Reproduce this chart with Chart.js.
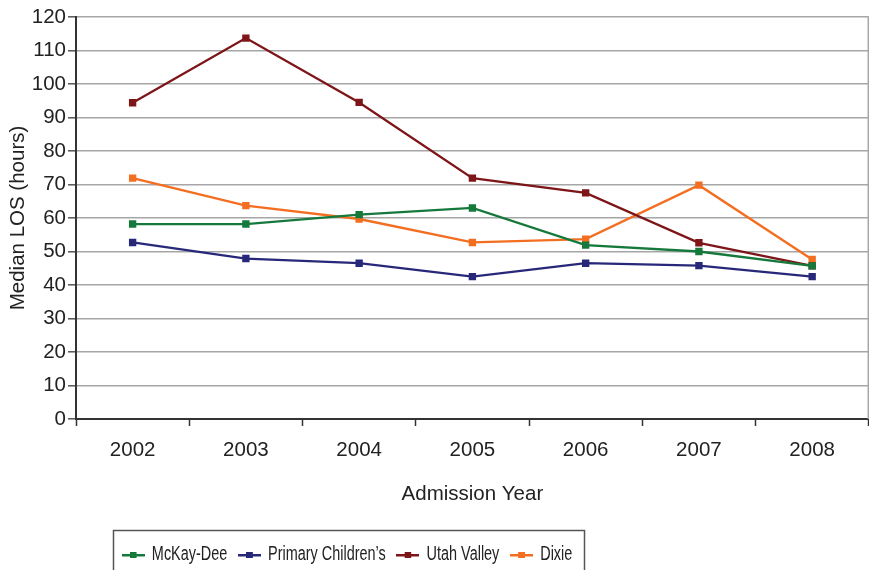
<!DOCTYPE html>
<html>
<head>
<meta charset="utf-8">
<script src="https://cdn.jsdelivr.net/npm/chart.js@4.4.1/dist/chart.umd.min.js"></script>
<style>
html, body { margin: 0; padding: 0; background: #fff; overflow: hidden; }
#wrap { width: 874px; height: 570px; }
</style>
</head>
<body>
<div id="wrap"><canvas id="chart"></canvas></div>
<script>
"use strict";

const years = ["2002", "2003", "2004", "2005", "2006", "2007", "2008"];
const mckayDee = [58.2, 58.2, 61, 63, 51.9, 50, 45.7];
const primaryChildrens = [52.7, 47.9, 46.5, 42.5, 46.5, 45.8, 42.5];
const utahValley = [94.4, 113.7, 94.5, 71.9, 67.5, 52.6, 45.7];
const dixie = [71.9, 63.7, 59.7, 52.7, 53.7, 69.8, 47.6];

const seriesNames = ["McKay-Dee", "Primary Children\u2019s", "Utah Valley", "Dixie"];
const seriesColors = ["#16793c", "#28287a", "#7e1518", "#f36e21"];

const FONT = "'Liberation Sans', Arial, Helvetica, sans-serif";
const FONT_SIZE = 20.5;

// the legend in the original is set in a narrow face
const LEGEND_SQUEEZE = 0.74;
const LEGEND_CENTER_X = 347;
const LEGEND_TEXT_Y = 555;
const LEGEND_PAD = 14.5;
const LEGEND_FONT = 19.5;

function legendIcon(color) {
    const c = document.createElement("canvas");
    c.width = 31;
    c.height = 8;
    const ctx = c.getContext("2d");
    ctx.fillStyle = color;
    ctx.fillRect(0, 3, 31, 2.5);
    ctx.fillRect(11, 1, 9, 6);
    return c;
}

function makeDataset(label, data, color) {
    return {
        label, data,
        borderColor: color,
        backgroundColor: color,
        borderWidth: 2.3,
        pointStyle: "rect",
        pointRadius: 5.2,
        pointHoverRadius: 5.2,
        pointBorderWidth: 0,
        tension: 0
    };
}

const framePlugin = {
    id: "frame",
    afterLayout(chart) {
        const lg = chart.legend;
        const shift = LEGEND_CENTER_X - (lg.left + lg.right) / 2;
        lg.left += shift;
        lg.right += shift;
        const h = lg.bottom - lg.top;
        lg.top = LEGEND_TEXT_Y - LEGEND_PAD - LEGEND_FONT / 2;
        lg.bottom = lg.top + h;
        if (!lg._squeezed) {
            const drawLegend = lg.draw.bind(lg);
            lg.draw = function (area) {
                const c = chart.ctx;
                c.save();
                c.translate(LEGEND_CENTER_X, 0);
                c.scale(LEGEND_SQUEEZE, 1);
                c.translate(-LEGEND_CENTER_X, 0);
                drawLegend(area);
                c.restore();
            };
            lg._squeezed = true;
        }
    },
    beforeDatasetsDraw(chart) {
        const { ctx, chartArea: a } = chart;
        ctx.save();
        ctx.strokeStyle = "#a6a6a6";
        ctx.lineWidth = 1.5;
        ctx.beginPath();
        ctx.moveTo(a.right - 0.5, a.top);
        ctx.lineTo(a.right - 0.5, a.bottom);
        ctx.stroke();
        ctx.restore();
    },
    afterDraw(chart) {
        const boxes = chart.legend.legendHitBoxes;
        if (!boxes || !boxes.length) return;
        const sx = (x) => LEGEND_CENTER_X + (x - LEGEND_CENTER_X) * LEGEND_SQUEEZE;
        const first = boxes[0];
        const last = boxes[boxes.length - 1];
        const left = sx(first.left) - 9;
        const right = sx(last.left + last.width) + 11;
        const { ctx } = chart;
        ctx.save();
        ctx.strokeStyle = "#555";
        ctx.lineWidth = 1.5;
        ctx.strokeRect(Math.round(left) + 0.5, 530.5, Math.round(right - left), 60);
        ctx.restore();
    }
};

const ctx = document.getElementById("chart").getContext("2d");
new Chart(ctx, {
    type: "line",
    data: {
        labels: years,
        datasets: [
            makeDataset(seriesNames[0], mckayDee, seriesColors[0]),
            makeDataset(seriesNames[1], primaryChildrens, seriesColors[1]),
            makeDataset(seriesNames[2], utahValley, seriesColors[2]),
            makeDataset(seriesNames[3], dixie, seriesColors[3])
        ]
    },
    plugins: [framePlugin],
    options: {
        responsive: true,
        maintainAspectRatio: false,
        animation: false,
        layout: { padding: { top: 17, right: 0, left: 0, bottom: 0 } },
        plugins: {
            tooltip: { enabled: false },
            legend: {
                position: "bottom",
                labels: {
                    usePointStyle: true,
                    pointStyleWidth: 31,
                    padding: LEGEND_PAD,
                    color: "#222",
                    font: { family: FONT, size: LEGEND_FONT },
                    generateLabels(chart) {
                        return chart.data.datasets.map((ds, i) => ({
                            text: ds.label,
                            pointStyle: legendIcon(ds.borderColor),
                            fillStyle: ds.borderColor,
                            strokeStyle: ds.borderColor,
                            lineWidth: 0,
                            fontColor: "#222",
                            hidden: false,
                            datasetIndex: i
                        }));
                    }
                }
            }
        },
        scales: {
            x: {
                offset: true,
                grid: {
                    display: true,
                    offset: true,
                    drawOnChartArea: false,
                    drawTicks: true,
                    tickLength: 7,
                    tickColor: "#333",
                    tickWidth: 1.5
                },
                border: { color: "#333", width: 2 },
                ticks: {
                    color: "#222",
                    padding: 12,
                    font: { family: FONT, size: FONT_SIZE }
                },
                title: {
                    display: true,
                    text: "Admission Year",
                    color: "#222",
                    font: { family: FONT, size: FONT_SIZE },
                    padding: { top: 10, bottom: 19 }
                },
                afterFit(scale) { scale.height = 107; }
            },
            y: {
                min: 0,
                max: 120,
                ticks: {
                    stepSize: 10,
                    color: "#222",
                    padding: 2,
                    font: { family: FONT, size: FONT_SIZE }
                },
                grid: {
                    color: "#a6a6a6",
                    lineWidth: 1.6,
                    tickLength: 8,
                    tickColor: "#555",
                    tickWidth: 1.5
                },
                border: { color: "#333", width: 2 },
                title: {
                    display: true,
                    text: "Median LOS (hours)",
                    color: "#222",
                    font: { family: FONT, size: FONT_SIZE },
                    padding: { top: 6, bottom: 0 }
                },
                afterFit(scale) { scale.width = 76; }
            }
        }
    }
});
</script>
</body>
</html>
